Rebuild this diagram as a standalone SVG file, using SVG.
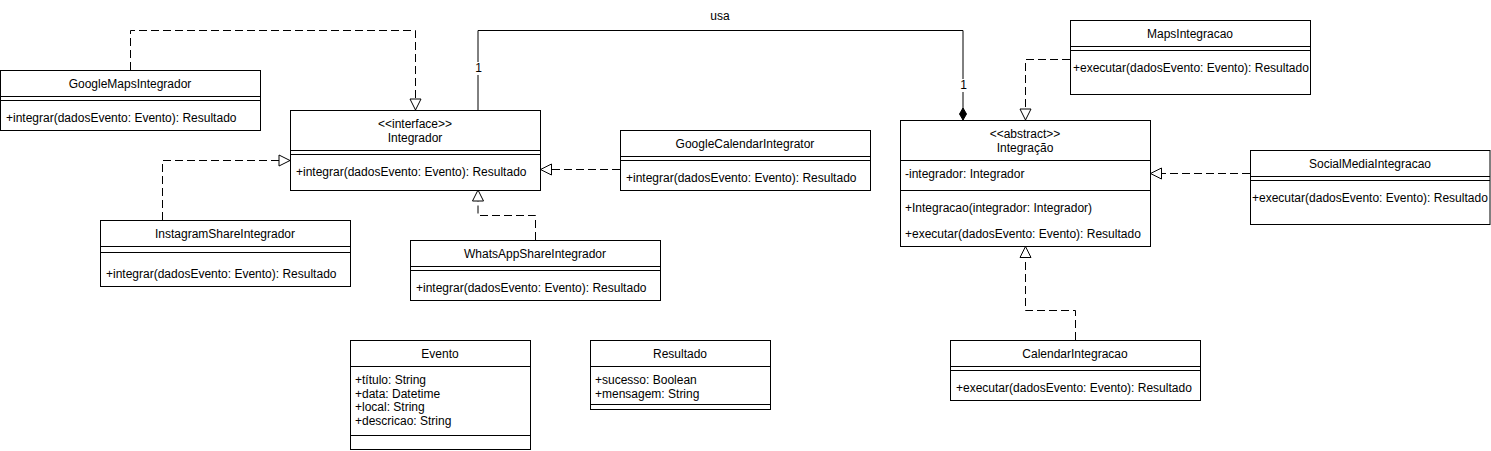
<svg xmlns="http://www.w3.org/2000/svg" width="1491" height="451" viewBox="0 0 1491 451">
<defs>
<style>
.box{fill:#fff;stroke:#000;stroke-width:1}
.ln{stroke:#000;stroke-width:1;fill:none}
text{font-family:"Liberation Sans",Arial,sans-serif;font-size:12px;fill:#000;dominant-baseline:central}
.c{text-anchor:middle}
.dash{stroke:#000;stroke-width:1;fill:none;stroke-dasharray:8 4}
.solid{stroke:#000;stroke-width:1;fill:none}
.lbg{fill:#fff;stroke:none}
</style>
<marker id="tri" markerUnits="userSpaceOnUse" markerWidth="14" markerHeight="14" refX="12" refY="6" orient="auto" viewBox="0 0 14 12">
<path d="M1,0.5 L12,6 L1,11.5 Z" fill="#fff" stroke="#000" stroke-width="1" stroke-dasharray="none"/>
</marker>
<marker id="dia" markerUnits="userSpaceOnUse" markerWidth="14" markerHeight="10" refX="13" refY="4" orient="auto" viewBox="0 0 14 8">
<path d="M1,4 L7,0.5 L13,4 L7,7.5 Z" fill="#000" stroke="#000" stroke-width="1"/>
</marker>
</defs>
<rect width="1491" height="451" fill="#fff"/>

<g id="connectors">
<path class="dash" d="M130.5,70 V30.5 H415.5 V110" marker-end="url(#tri)"/>
<path class="dash" d="M162.5,220 V160.5 H290" marker-end="url(#tri)"/>
<path class="dash" d="M535.5,240 V215.5 H478 V190" marker-end="url(#tri)"/>
<path class="dash" d="M620,169.5 H540.5" marker-end="url(#tri)"/>
<path class="solid" d="M478,110 V30.5 H963 V120" marker-end="url(#dia)"/>
<text class="c" x="720" y="16">usa</text>
<rect class="lbg" x="474" y="62" width="9" height="13"/>
<text class="c" x="478.5" y="68">1</text>
<rect class="lbg" x="959" y="79" width="9" height="13"/>
<text class="c" x="963.5" y="85">1</text>
<path class="dash" d="M1070,59.5 H1025.5 V120" marker-end="url(#tri)"/>
<path class="dash" d="M1250,173.5 H1150.5" marker-end="url(#tri)"/>
<path class="dash" d="M1075.5,340 V310.5 H1025.5 V246.5" marker-end="url(#tri)"/>
</g>

<g id="GoogleMapsIntegrador">
<rect class="box" x="0.5" y="70.5" width="260" height="60"/>
<path class="ln" d="M0.5,96.5 H260.5 M0.5,100.5 H260.5"/>
<text class="c" x="130" y="83.5">GoogleMapsIntegrador</text>
<text x="6" y="117.5">+integrar(dadosEvento: Evento): Resultado</text>
</g>

<g id="Integrador">
<rect class="box" x="290.5" y="110.5" width="250" height="80"/>
<path class="ln" d="M290.5,150.5 H540.5 M290.5,154.5 H540.5"/>
<text class="c" x="415" y="124">&lt;&lt;interface&gt;&gt;</text>
<text class="c" x="415" y="138">Integrador</text>
<text x="296" y="172">+integrar(dadosEvento: Evento): Resultado</text>
</g>

<g id="GoogleCalendarIntegrator">
<rect class="box" x="620.5" y="130.5" width="250" height="60"/>
<path class="ln" d="M620.5,156.5 H870.5 M620.5,160.5 H870.5"/>
<text class="c" x="745" y="143.5">GoogleCalendarIntegrator</text>
<text x="626" y="177.5">+integrar(dadosEvento: Evento): Resultado</text>
</g>

<g id="InstagramShareIntegrador">
<rect class="box" x="100.5" y="220.5" width="250" height="66"/>
<path class="ln" d="M100.5,246.5 H350.5 M100.5,252.5 H350.5"/>
<text class="c" x="225" y="233.5">InstagramShareIntegrador</text>
<text x="106" y="273.5">+integrar(dadosEvento: Evento): Resultado</text>
</g>

<g id="WhatsAppShareIntegrador">
<rect class="box" x="410.5" y="240.5" width="250" height="60"/>
<path class="ln" d="M410.5,266.5 H660.5 M410.5,270.5 H660.5"/>
<text class="c" x="535" y="253.5">WhatsAppShareIntegrador</text>
<text x="416" y="287.5">+integrar(dadosEvento: Evento): Resultado</text>
</g>

<g id="MapsIntegracao">
<rect class="box" x="1070.5" y="20.5" width="240" height="74"/>
<path class="ln" d="M1070.5,46.5 H1310.5 M1070.5,50.5 H1310.5"/>
<text class="c" x="1190" y="33.5">MapsIntegracao</text>
<text x="1073" y="67.5">+executar(dadosEvento: Evento): Resultado</text>
</g>

<g id="Integracao">
<rect class="box" x="900.5" y="120.5" width="250" height="126"/>
<path class="ln" d="M900.5,160.5 H1150.5 M900.5,190.5 H1150.5"/>
<text class="c" x="1025" y="134">&lt;&lt;abstract&gt;&gt;</text>
<text class="c" x="1025" y="147.5">Integração</text>
<text x="905" y="173.5">-integrador: Integrador</text>
<text x="905" y="208">+Integracao(integrador: Integrador)</text>
<text x="905" y="233.5">+executar(dadosEvento: Evento): Resultado</text>
</g>

<g id="SocialMediaIntegracao">
<rect class="box" x="1250.5" y="150.5" width="239.5" height="74"/>
<path class="ln" d="M1250.5,176.5 H1490 M1250.5,180.5 H1490"/>
<text class="c" x="1370" y="163.5">SocialMediaIntegracao</text>
<text x="1252" y="197.5">+executar(dadosEvento: Evento): Resultado</text>
</g>

<g id="CalendarIntegracao">
<rect class="box" x="950.5" y="340.5" width="250" height="60"/>
<path class="ln" d="M950.5,366.5 H1200.5 M950.5,370.5 H1200.5"/>
<text class="c" x="1075" y="353.5">CalendarIntegracao</text>
<text x="956" y="387.5">+executar(dadosEvento: Evento): Resultado</text>
</g>

<g id="Evento">
<rect class="box" x="350.5" y="340.5" width="180" height="109"/>
<path class="ln" d="M350.5,366.5 H530.5 M350.5,435.5 H530.5"/>
<text class="c" x="440" y="353.5">Evento</text>
<text x="355" y="380">+título: String</text>
<text x="355" y="393.7">+data: Datetime</text>
<text x="355" y="407.4">+local: String</text>
<text x="355" y="421">+descricao: String</text>
</g>

<g id="Resultado">
<rect class="box" x="590.5" y="340.5" width="180" height="69"/>
<path class="ln" d="M590.5,366.5 H770.5 M590.5,404.5 H770.5"/>
<text class="c" x="680" y="353.5">Resultado</text>
<text x="595" y="380">+sucesso: Boolean</text>
<text x="595" y="393.7">+mensagem: String</text>
</g>
</svg>
